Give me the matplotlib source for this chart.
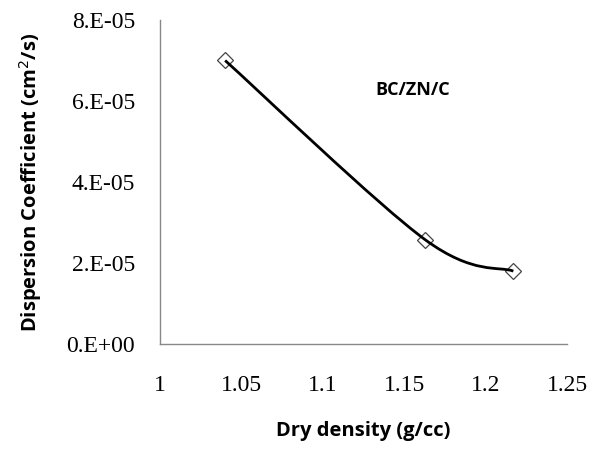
import numpy as np
import matplotlib
matplotlib.use("Agg")
import matplotlib.pyplot as plt
from matplotlib.path import Path
from matplotlib.patches import PathPatch

# dry density (g/cc) vs dispersion coefficient (cm2/s)
dry_density = [1.040, 1.163, 1.217]
dispersion = [7.0e-05, 2.57e-05, 1.8e-05]

x_ticks = [1, 1.05, 1.1, 1.15, 1.2, 1.25]
x_tick_labels = ["1", "1.05", "1.1", "1.15", "1.2", "1.25"]
y_ticks = [0, 2e-05, 4e-05, 6e-05, 8e-05]
y_tick_labels = ["0.E+00", "2.E-05", "4.E-05", "6.E-05", "8.E-05"]


def smooth_path(xs, ys, t=1/6):
    # spreadsheet-style smoothed line: cubic beziers with neighbour-based handles
    pts = np.column_stack([xs, ys])
    n = len(pts)
    verts = [pts[0]]
    codes = [Path.MOVETO]
    for i in range(n - 1):
        p0 = pts[i - 1] if i > 0 else pts[i]
        p1 = pts[i]
        p2 = pts[i + 1]
        p3 = pts[i + 2] if i + 2 < n else pts[i + 1]
        c1 = p1 + (p2 - p0) * t
        c2 = p2 - (p3 - p1) * t
        verts += [c1, c2, p2]
        codes += [Path.CURVE4] * 3
    return Path(verts, codes)


fig = plt.figure(figsize=(6.02, 4.49), dpi=100)
ax = fig.add_axes([0.2658, 0.2339, 0.9420 - 0.2658, 0.9555 - 0.2339])

# scale to unit ranges so the bezier handles follow the screen shape
sx = 1 / 0.25
sy = 1 / 8e-05
path = smooth_path(np.array(dry_density) * sx, np.array(dispersion) * sy)
path = Path(path.vertices / [sx, sy], path.codes)

ax.plot(dry_density, dispersion, linestyle="none", marker="D", markersize=8.5,
        markerfacecolor="white", markeredgecolor="#444444", markeredgewidth=0.9, zorder=2)
ax.add_patch(PathPatch(path, facecolor="none", edgecolor="black", lw=2.0, zorder=3))

ax.set_xlim(1, 1.25)
ax.set_ylim(0, 8e-05)
ax.set_xticks(x_ticks)
ax.set_xticklabels(x_tick_labels, family="Liberation Serif", fontsize=17)
ax.set_yticks(y_ticks)
ax.set_yticklabels(y_tick_labels, family="Liberation Serif", fontsize=17)
ax.tick_params(axis="x", length=0, pad=22)
ax.tick_params(axis="y", length=0, pad=18)

for side in ["top", "right"]:
    ax.spines[side].set_visible(False)
for side in ["left", "bottom"]:
    ax.spines[side].set_color("#888888")
    ax.spines[side].set_linewidth(1.0)

ax.set_xlabel("Dry density (g/cc)", family="Open Sans", fontweight="bold", fontsize=14.5, labelpad=18)
ax.yaxis.set_label_coords(-0.285, 0.475)
ax.set_ylabel("Dispersion Coefficient (cm$^2$/s)", family="Open Sans", fontweight="bold",
              fontsize=14.5)

ax.text(1.132, 6.15e-05, "BC/ZN/C", family="Open Sans", fontweight="bold", fontsize=13)

fig.savefig("out.png", dpi=100)
